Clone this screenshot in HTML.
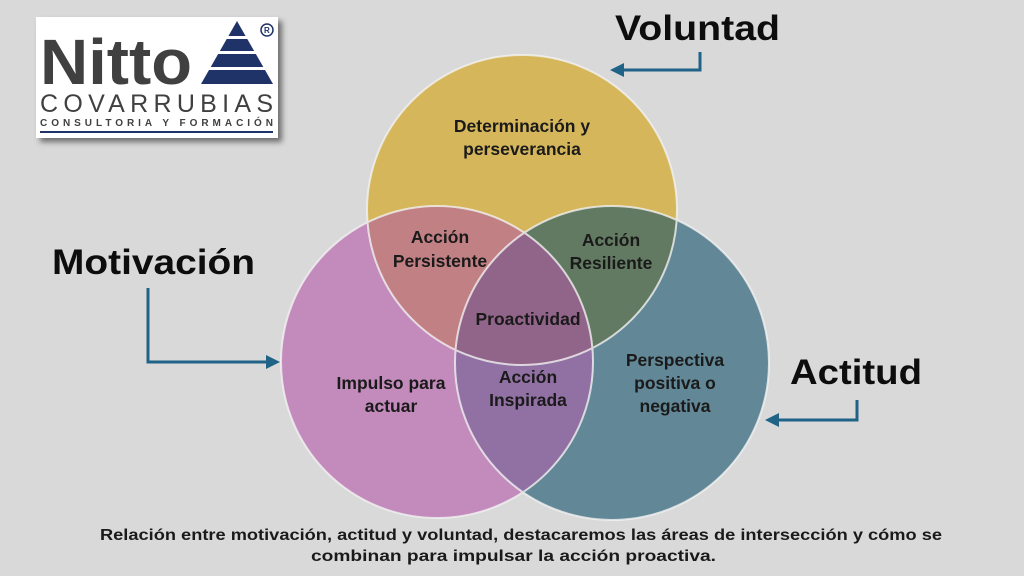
<!DOCTYPE html>
<html><head><meta charset="utf-8"><style>
body{margin:0;width:1024px;height:576px;background:#d9d9d9;overflow:hidden;font-family:"Liberation Sans",sans-serif;}
</style></head><body>
<svg width="1024" height="576" xmlns="http://www.w3.org/2000/svg" style="position:absolute;left:0;top:0">
<defs>
<clipPath id="cy"><circle cx="522" cy="210" r="155"/></clipPath>
<clipPath id="cp"><circle cx="437" cy="362" r="156"/></clipPath>
<clipPath id="cb"><circle cx="612" cy="363" r="157"/></clipPath>
<filter id="sh" x="-10%" y="-10%" width="130%" height="130%"><feDropShadow dx="4" dy="4" stdDeviation="3" flood-color="#000" flood-opacity="0.5"/></filter>
</defs>
<!-- logo -->
<rect x="36" y="17" width="242" height="121" fill="#fff" filter="url(#sh)"/>
<text x="40" y="84" font-size="64" font-weight="bold" fill="#404040" textLength="152" lengthAdjust="spacingAndGlyphs">Nitto</text>
<polygon points="237,21 201,84 273,84" fill="#1f3368"/>
<rect x="200" y="36" width="75" height="3" fill="#fff"/>
<rect x="200" y="51" width="75" height="3" fill="#fff"/>
<rect x="200" y="67" width="75" height="3" fill="#fff"/>
<circle cx="267" cy="30" r="6" fill="none" stroke="#1f3368" stroke-width="1.5"/>
<text x="264" y="33" font-size="8" font-weight="bold" fill="#1f3368">R</text>
<text x="40" y="112" font-size="25" fill="#404040" textLength="233" lengthAdjust="spacing">COVARRUBIAS</text>
<text x="40" y="126" font-size="10" font-weight="bold" fill="#404040" textLength="233" lengthAdjust="spacing">CONSULTORIA Y FORMACIÓN</text>
<rect x="40" y="131" width="233" height="2" fill="#1f3368"/>
<!-- circles -->
<circle cx="522" cy="210" r="155" fill="#d6b65a"/>
<circle cx="437" cy="362" r="156" fill="#c38abc"/>
<circle cx="612" cy="363" r="157" fill="#628797"/>
<g clip-path="url(#cy)"><circle cx="437" cy="362" r="156" fill="#c18084"/><circle cx="612" cy="363" r="157" fill="#637a62"/></g>
<g clip-path="url(#cp)"><circle cx="612" cy="363" r="157" fill="#9170a3"/></g>
<g clip-path="url(#cy)"><g clip-path="url(#cp)"><circle cx="612" cy="363" r="157" fill="#916489"/></g></g>
<g fill="none" stroke="#f2f2f2" stroke-width="2" opacity="0.8">
<circle cx="522" cy="210" r="155"/><circle cx="437" cy="362" r="156"/><circle cx="612" cy="363" r="157"/></g>
<g font-size="17.5" font-weight="bold" fill="#1a1a1a" text-anchor="middle">
<text x="522" y="132">Determinación y</text><text x="522" y="155">perseverancia</text>
<text x="440" y="243">Acción</text><text x="440" y="267">Persistente</text>
<text x="611" y="246">Acción</text><text x="611" y="269">Resiliente</text>
<text x="528" y="325">Proactividad</text>
<text x="528" y="383">Acción</text><text x="528" y="406">Inspirada</text>
<text x="391" y="389">Impulso para</text><text x="391" y="412">actuar</text>
<text x="675" y="366">Perspectiva</text><text x="675" y="389">positiva o</text><text x="675" y="412">negativa</text>
</g>
<!-- arrows -->
<g fill="none" stroke="#1f6486" stroke-width="3">
<polyline points="700,52 700,70 620,70"/>
<polyline points="148,288 148,362 270,362"/>
<polyline points="857,400 857,420 775,420"/>
</g>
<g fill="#1f6486">
<polygon points="610,70 624,63 624,77"/>
<polygon points="280,362 266,355 266,369"/>
<polygon points="765,420 779,413 779,427"/>
</g>
<g font-weight="bold" fill="#0d0d0d" font-size="35">
<text x="615" y="40" textLength="165" lengthAdjust="spacingAndGlyphs">Voluntad</text>
<text x="52" y="274" textLength="203" lengthAdjust="spacingAndGlyphs">Motivación</text>
<text x="790" y="384" textLength="132" lengthAdjust="spacingAndGlyphs">Actitud</text>
</g>
<g font-size="16" font-weight="bold" fill="#1a1a1a">
<text x="100" y="540" textLength="842" lengthAdjust="spacingAndGlyphs">Relación entre motivación, actitud y voluntad, destacaremos las áreas de intersección y cómo se</text>
<text x="311" y="561" textLength="405" lengthAdjust="spacingAndGlyphs">combinan para impulsar la acción proactiva.</text>
</g>
</svg>
</body></html>
